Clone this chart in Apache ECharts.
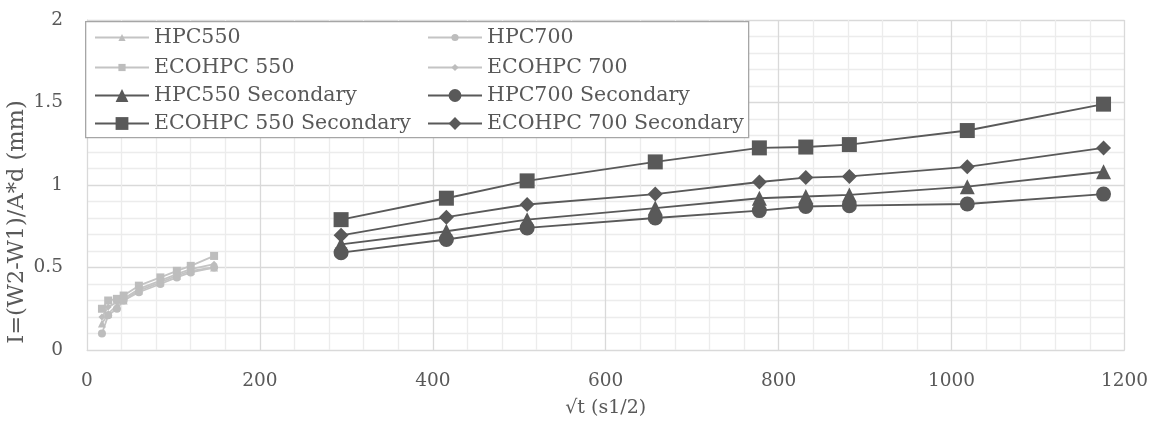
<!DOCTYPE html>
<html><head><meta charset="utf-8">
<script src="https://cdn.jsdelivr.net/npm/echarts@6/dist/echarts.min.js"></script>
<style>html,body{margin:0;padding:0;background:#fff}#c{width:1151px;height:425px}</style>
</head><body><div id="c"></div>
<script>
// primary x (sqrt of seconds), early readings
const xPrimary = [17.3, 24.5, 34.6, 42.4, 60.0, 84.9, 103.9, 120.0, 147.0];
const hpc550 = [0.16, 0.22, 0.27, 0.30, 0.36, 0.41, 0.45, 0.48, 0.50];
const hpc700 = [0.10, 0.21, 0.25, 0.30, 0.35, 0.40, 0.44, 0.47, 0.50];
const eco550 = [0.25, 0.30, 0.31, 0.33, 0.39, 0.44, 0.48, 0.51, 0.57];
const eco700 = [0.20, 0.26, 0.29, 0.31, 0.37, 0.42, 0.46, 0.49, 0.52];
// secondary x (days 1..16)
const xSecondary = [293.9, 415.7, 509.1, 657.3, 777.7, 831.4, 881.8, 1018.2, 1175.8];
const hpc550S = [0.64, 0.72, 0.79, 0.86, 0.92, 0.93, 0.94, 0.99, 1.08];
const hpc700S = [0.59, 0.67, 0.74, 0.80, 0.845, 0.87, 0.875, 0.885, 0.945];
const eco550S = [0.79, 0.92, 1.025, 1.14, 1.225, 1.23, 1.245, 1.33, 1.49];
const eco700S = [0.695, 0.805, 0.882, 0.945, 1.018, 1.045, 1.052, 1.11, 1.225];
const xTicks = [0, 200, 400, 600, 800, 1000, 1200];
const yTicks = [0, 0.5, 1, 1.5, 2];

const pair = (xs, ys) => xs.map((x, i) => [x, ys[i]]);
const FONT = 'DejaVu Serif';
const TXT = '#595959';
const LIGHT = '#c4c4c4';
const DARK = '#595959';

function light(name, ys, sym, size) {
  return { name, type: 'line', data: pair(xPrimary, ys), symbol: sym, symbolSize: size,
    lineStyle: { color: LIGHT, width: 1.8 }, itemStyle: { color: '#bdbdbd' }, z: 3, animation: false };
}
function dark(name, ys, sym, size) {
  return { name, type: 'line', data: pair(xSecondary, ys), symbol: sym, symbolSize: size,
    lineStyle: { color: DARK, width: 1.9 }, itemStyle: { color: DARK }, z: 4, animation: false };
}
function leg(left, top, h, gap, names) {
  return { orient: 'vertical', left, top, padding: 0, itemGap: gap, itemWidth: 54, itemHeight: h, z: 20,
    textStyle: { fontFamily: FONT, fontSize: 20.5, lineHeight: 20, color: TXT }, data: names };
}

const chart = echarts.init(document.getElementById('c'), null, { renderer: 'canvas' });
chart.setOption({
  animation: false,
  grid: { left: 87, right: 24, top: 20, bottom: 75, containLabel: false },
  xAxis: {
    type: 'value', min: xTicks[0], max: xTicks[xTicks.length - 1], interval: 200,
    name: '√t (s1/2)', nameLocation: 'middle', nameGap: 49,
    nameTextStyle: { fontFamily: FONT, fontSize: 19, color: TXT },
    axisLine: { show: true, lineStyle: { color: '#d9d9d9', width: 1 } },
    axisTick: { show: false },
    axisLabel: { fontFamily: FONT, fontSize: 18.5, color: TXT, margin: 22, formatter: v => String(v) },
    splitLine: { show: true, lineStyle: { color: '#d9d9d9', width: 1.3 } },
    minorTick: { show: false, splitNumber: 5 },
    minorSplitLine: { show: true, lineStyle: { color: '#ececec', width: 1.3 } }
  },
  yAxis: {
    type: 'value', min: yTicks[0], max: yTicks[yTicks.length - 1], interval: 0.5,
    axisLine: { show: true, lineStyle: { color: '#d9d9d9', width: 1 } },
    axisTick: { show: false },
    axisLabel: { fontFamily: FONT, fontSize: 18.5, color: TXT, margin: 24, formatter: v => String(v) },
    splitLine: { show: true, lineStyle: { color: '#d9d9d9', width: 1.3 } },
    minorTick: { show: false, splitNumber: 5 },
    minorSplitLine: { show: true, lineStyle: { color: '#ececec', width: 1.3 } }
  },
  graphic: [{
    type: 'rect', left: 85, top: 21, z: 10,
    shape: { width: 663, height: 116 },
    style: { fill: '#ffffff', stroke: '#a6a6a6', lineWidth: 1.3 }
  }, {
    type: 'text', x: 17, y: 222, rotation: Math.PI / 2, z: 10,
    style: { text: 'I=(W2-W1)/A*d (mm)', fontFamily: FONT, fontSize: 22.5, fill: TXT,
      align: 'center', verticalAlign: 'middle' }
  }],
  legend: [
    leg(94, 27, 9, 9, ['HPC550', 'ECOHPC 550']),
    leg(427, 27, 9, 9, ['HPC700', 'ECOHPC 700']),
    leg(94, 85, 16, 7, ['HPC550 Secondary', 'ECOHPC 550 Secondary']),
    leg(427, 85, 16, 7, ['HPC700 Secondary', 'ECOHPC 700 Secondary'])
  ],
  series: [
    light('HPC550', hpc550, 'triangle', 8),
    light('HPC700', hpc700, 'circle', 8),
    light('ECOHPC 550', eco550, 'rect', 8),
    light('ECOHPC 700', eco700, 'diamond', 7),
    dark('HPC550 Secondary', hpc550S, 'triangle', 15),
    dark('HPC700 Secondary', hpc700S, 'circle', 15),
    dark('ECOHPC 550 Secondary', eco550S, 'rect', 15),
    dark('ECOHPC 700 Secondary', eco700S, 'diamond', 15)
  ]
});
</script></body></html>
